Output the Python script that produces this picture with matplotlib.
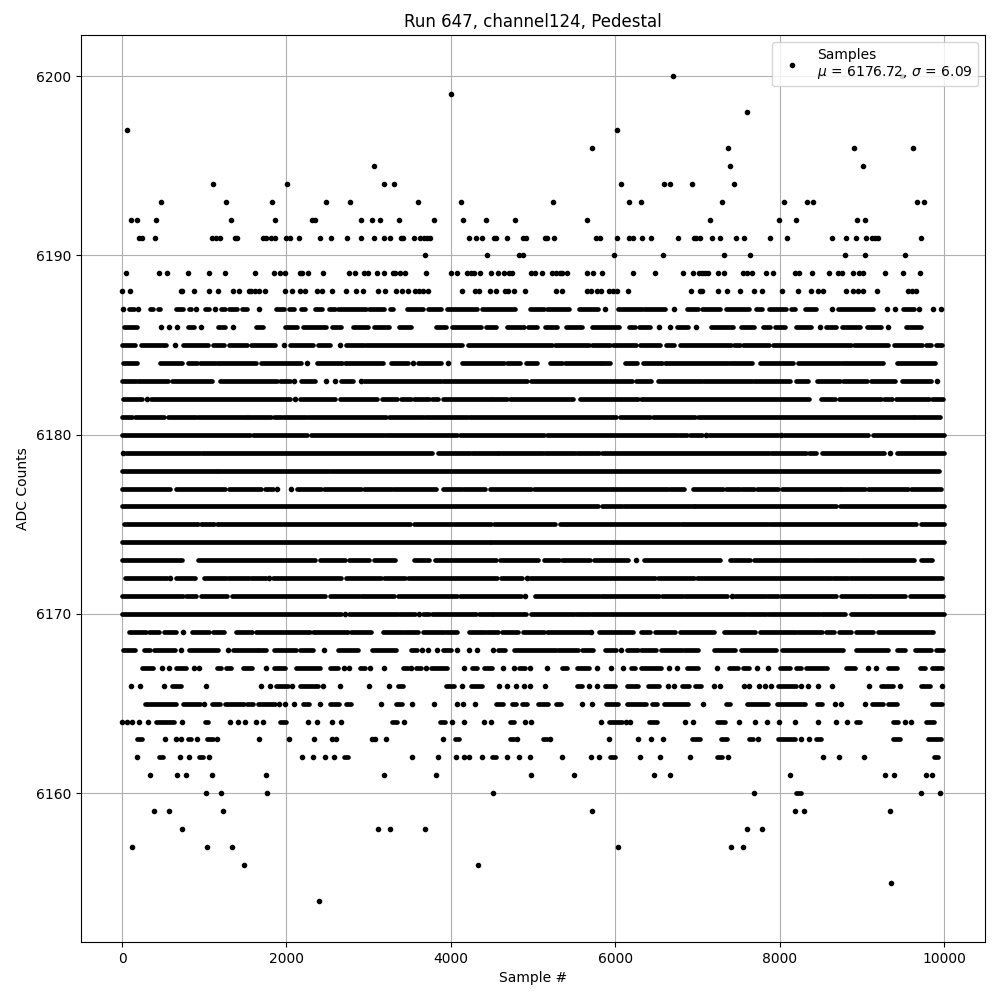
import matplotlib
matplotlib.use("Agg")
import matplotlib.pyplot as plt

# Values. A plain number is one sample; a (start, end) pair is a
# run of samples whose dots merge in the reference and cannot be told apart.
level_6200 = [6703, 9491]
level_6199 = [4008]
level_6198 = [7600]
level_6197 = [57, 6024]
level_6196 = [5721, 7370, 8909, 9624]
level_6195 = [3062, 7394, 9018]
level_6194 = [1111, 2008, 3184, 3305, 6073, 6594, 6667, 6933, 7442]
level_6193 = [469, 1269, 1826, 2480, 2771, 3596, 4129, 5249, 6170, 6315, 7297, 8060, 8339, 8412, 9672, 9757]
level_6192 = [105, 178, 408, 1329, 1862, 2315, 2343, 2905, 3038, 3135, 3365, 3790, 4153, 4432, 4783, 5661, 7151, 7988, 8206, 8945, 9042]
level_6191 = [210, 238, 396, 1099, 1147, 1196, 1378, 1402, 1717, 1753, 1814, 1866, 1996, 2044, 2153, 2408, 2541, 2735, 2905, 3062, 3184, 3256, 3390, 3414, 3547, 3620, 3668, 3705, 3741, 4218, 4303, 4376, 4521, 4545, 4687, 4880, 4917, 5152, 5176, 5261, 5770, 5818, 6024, 6170, 6218, 6327, 6436, 6764, 6957, 6982, 7030, 7176, 7273, 7467, 7563, 7879, 8085, 8642, 8812, 8933, 9054, 9127, 9163, 9200, 9721]
level_6190 = [3680, 4444, 4832, 4880, 5988, 6582, 7321, 7636, 8800, 9042, 9527]
level_6189 = [44, 452, 541, 808, 1063, 1256, 1620, 1850, 1923, 1984, 2165, 2190, 2262, 2444, 2759, 2832, 2941, 2990, 3099, 3184, 3293, 3317, 3377, 3438, 3693, 4008, 4080, 4202, 4250, 4287, 4359, 4492, 4577, 4650, 4711, 4747, 4981, 5030, 5115, 5236, 5285, 5333, 5358, 5418, 5661, 5733, 5842, 6218, 6485, 6824, 6945, 7018, 7054, 7091, 7135, 7248, 7321, 7551, 7600, 7660, 7830, 7915, 8194, 8242, 8400, 8606, 8715, 8764, 8897, 8970, 9018, 9285, 9503, 9709]
level_6188 = [0, 93, 711, 735, 881, 1063, 1172, 1353, 1426, 1547, 1572, 1620, 1669, 1741, 1984, 2068, 2165, 2226, 2372, 2432, 2553, 2723, 2844, 2929, 3111, 3196, 3329, 3402, 3474, 3559, 3608, 3656, 3717, 4141, 4299, 4347, 4481, 4554, 4663, 4699, 4771, 4905, 5285, 5358, 5661, 5709, 5782, 5830, 5927, 5976, 6024, 6158, 6921, 7030, 7054, 7248, 7358, 7515, 7685, 7782, 8024, 8230, 8388, 8473, 8533, 8812, 8897, 8958, 9018, 9188, 9563, 9612, 9660]
level_6187 = [12, (81, 141), 190, (335, 372), (432, 457), (650, 747), (820, 844), 905, (1014, 1063), 1131, (1208, 1256), (1305, 1402), (1462, 1523), 1669, (1875, 1972), (2032, 2093), (2178, 2226), (2347, 2432), (2517, 2590), (2626, 2969), (3002, 3184), (3256, 3293), (3462, 3656), (3717, 3878), (3959, 4323), (4383, 4787), (4969, 5136), (5176, 5438), (5560, 5794), 5879, (6036, 6327), (6347, 6602), 6715, (6873, 7006), (7054, 7281), (7345, 7632), (7709, 7782), (7867, 8073), (8137, 8194), (8307, 8448), 8642, (8711, 9135), 9309, 9406, (9507, 9640), 9697, 9866, 9963]
level_6186 = [(20, 182), 477, 566, 663, (796, 881), 966, (1172, 1257), 1353, (1624, 1717), (1984, 2129), (2202, 2485), (2553, 2666), (2808, 2990), (3070, 3244), (3373, 3519), (3818, 3939), (4020, 4363), (4424, 4545), (4686, 4888), (4941, 5050), (5148, 5297), (5406, 5592), (5713, 6044), (6166, 6246), (6295, 6428), 6533, 6667, (6751, 6885), 6982, (7163, 7438), (7527, 7693), (7794, 7883), (7943, 8064), (8206, 8388), 8497, (8570, 8691), (8759, 8973), (9066, 9236), 9325, (9539, 9721)]
level_6185 = [(0, 162), (230, 533), 638, (747, 1050), (1111, 1240), (1301, 1523), (1563, 1866), 1972, (2048, 2323), (2384, 2525), 2650, (2727, 2949), (2969, 4141), (4214, 5236), (5269, 5681), (5721, 5931), (5972, 6259), (6303, 6549), (6618, 6711), (6784, 7410), (7450, 7523), (7560, 7871), (7923, 8873), (8905, 9325), (9390, 9729), (9782, 9842), (9902, 9972)]
level_6184 = [(12, 182), (465, 727), (808, 909), (949, 1131), (1159, 1624), (1689, 2182), 2254, (2372, 2679), (2707, 3180), (3276, 3474), 3535, (3604, 3886), 3971, (4141, 4646), (4686, 4836), (4909, 5054), (5208, 5358), (5390, 5826), (5842, 5943), (6117, 6271), (6335, 6570), (6610, 7378), (7398, 7660), (7757, 8165), (8226, 8731), (8759, 9256), (9430, 9895)]
level_6183 = [(0, 174), (190, 558), (610, 1091), (1192, 1879), (1919, 2048), 2093, (2178, 2343), 2481, 2586, (2662, 2808), 2905, (2949, 3878), (3899, 4921), (4977, 6206), (6255, 6440), (6521, 7046), (7071, 7660), (7693, 8133), (8206, 8347), (8456, 8731), (8771, 9066), (9107, 9406), (9487, 9842), 9911]
level_6182 = [(12, 242), 299, (351, 2040), 2109, (2166, 2586), (2646, 3103), (3163, 3345), (3394, 3515), (3555, 3737), (3777, 3850), (3899, 4484), (4505, 4686), (4715, 5487), (5568, 6279), (6319, 8355), (8501, 8679), (8719, 9236), (9277, 9365), (9418, 9822), (9854, 9995)]
level_6181 = [(0, 121), (154, 505), (558, 897), (929, 1515), (1535, 1818), (1846, 1939), (1959, 2242), (2262, 3212), (3244, 3656), (3684, 4202), (4222, 6004), (6053, 6428), (6461, 6974), (7006, 9620), (9640, 9955)]
level_6180 = [(0, 1555), (1588, 2250), (2303, 3192), (3212, 4080), (4109, 5139), (5176, 6751), (6772, 6873), (6913, 7054), 7107, (7147, 7976), 8016, (8056, 9074), (9135, 9996)]
level_6179 = [8, (53, 949), (970, 3777), (3842, 4230), (4262, 4565), (4573, 5123), (5148, 5511), (5539, 5802), (5834, 7871), (7895, 8327), (8355, 8448), (8517, 9277), 9349, (9430, 10000)]
level_6178 = [(0, 1151), (1172, 2517), (2541, 9943)]
level_6177 = [(0, 586), (658, 1252), (1301, 1685), (1737, 1838), 1887, 2056, (2129, 2424), (2456, 2909), (2941, 3280), (3313, 3818), (3907, 4121), (4153, 4412), (4472, 4981), (5018, 6642), (6667, 6840), (6945, 7317), (7345, 7519), (7547, 7693), (7721, 7976), (8024, 8731), (8751, 9042), (9078, 9559), (9600, 9963)]
level_6176 = [(0, 5794), (5834, 6085), (6109, 6954), (6974, 8683), (8739, 9996)]
level_6175 = [(20, 929), (962, 1119), (1159, 1951), (1971, 3507), (3547, 4020), (4040, 4492), (4525, 5265), (5325, 5398), (5418, 6772), (6804, 7862), (7879, 9660), (9721, 9996)]
level_6174 = [(0, 4472), (4492, 9996)]
level_6173 = [(0, 727), (929, 2343), (2404, 2707), (2755, 3010), (3070, 3325), (3555, 3737), (3806, 4553), (4597, 5062), (5139, 5317), (5358, 5693), (5741, 6154), 6259, (6351, 7277), (7402, 7644), (7685, 8367), (8396, 8961), (8994, 9640), (9721, 9850)]
level_6172 = [(40, 545), 578, (658, 889), (998, 1260), (1293, 1543), (1568, 1749), 1790, (1838, 2666), (2719, 3151), (3192, 3442), (3474, 4565), (4614, 4868), 4921, (4961, 6489), (6521, 6962), (6994, 8630), (8650, 8832), (8852, 9971)]
level_6171 = [(0, 739), (776, 901), (962, 1273), (1341, 2464), (2525, 2881), (2909, 3313), (3353, 4072), (4113, 4848), 4901, (5022, 5802), (5822, 6529), (6570, 6824), (6852, 7358), 7418, (7458, 7822), (7842, 7984), (8012, 8683), (8751, 9095), (9115, 9531), (9588, 9984)]
level_6170 = [(0, 2666), 2715, (2755, 3341), (3373, 3567), 3608, (3656, 3737), (3777, 4303), (4343, 4497), (4517, 4909), (4973, 5499), (5519, 5681), (5709, 7588), (7620, 7834), (7854, 8481), (8509, 8792), (8873, 10000)]
level_6169 = [(81, 295), (323, 452), (505, 659), 747, (848, 1054), (1111, 1240), (1386, 1576), (1628, 2291), (2323, 2747), (2788, 3034), (3171, 3406), (3434, 3596), (3664, 3919), (3947, 4080), (4222, 4412), (4444, 4573), (4618, 4820), (4876, 5136), (5176, 5681), 5709, (5802, 6214), (6311, 6428), (6481, 6731), (6784, 7208), (7329, 7701), (7761, 8198), (8226, 8521), (8570, 8662), (8723, 8873), (8933, 9143), (9196, 9862)]
level_6168 = [(12, 154), (263, 343), (384, 646), 711, (820, 1172), 1293, (1353, 1636), (1656, 1757), (1850, 2120), (2162, 2323), 2456, (2626, 2869), (3038, 3329), (3511, 3584), 3644, 3717, 3826, (3899, 4000), 4080, 4226, 4323, 4517, (4577, 4662), (4771, 5277), (5310, 5552), (5600, 5733), (5879, 6012), 6073, (6145, 6279), (6315, 6497), (6558, 6812), (6836, 7006), (7200, 7458), (7527, 7951), (8024, 8771), (8933, 9317), (9430, 9527), (9648, 9842), (9902, 9995)]
level_6167 = [(238, 372), 481, 566, (650, 772), 869, 941, (1151, 1208), (1269, 1321), (1475, 1584), 1753, (1850, 1984), (2117, 2404), (2529, 2626), 2699, 2767, (2893, 2953), 3014, 3184, (3414, 3475), 3515, (3576, 3636), 3696, (3757, 3959), 4165, (4262, 4323), (4408, 4505), 4638, 4771, (4832, 4905), 4965, 5176, (5358, 5418), (5539, 5681), 5782, 5952, 6097, (6194, 6242), (6315, 6558), 6655, 6751, (6873, 7006), 7236, (7382, 7499), (7551, 7624), 7721, 7854, (8000, 8133), (8206, 8266), (8327, 8582), (8812, 8921), 9078, 9175, (9321, 9430), (9709, 9769), (9854, 9975)]
level_6166 = [105, 214, 505, (602, 711), 1026, 1693, 1802, (1875, 2020), 2068, (2165, 2384), 2444, 2650, 3002, 3244, (3353, 3414), (3947, 4044), 4141, (4250, 4383), 4589, 4686, 4796, 4892, 4965, 5152, (5539, 5600), 5685, 5782, (5879, 6000), (6145, 6279), (6400, 6533), 6642, 6715, (6812, 6897), (6970, 7042), 7200, 7273, 7563, 7624, 7745, 7818, 7891, (7976, 8206), 8267, 8351, 8473, 8642, 9091, (9236, 9382), 9466, (9721, 9830), 9975]
level_6165 = [(275, 650), (747, 950), 998, (1099, 1192), (1256, 1483), (1523, 1596), (1656, 1858), 1911, 1984, 2093, (2202, 2275), 2408, (2529, 2638), (2723, 2784), 3147, (3329, 3402), 3523, 3790, 4080, 4153, 4299, (4545, 4638), (4747, 4795), (4868, 4929), (5062, 5188), (5285, 5345), 5600, 5721, (5891, 6036), (6145, 6376), (6448, 6509), (6594, 6885), 7067, (7345, 7394), (7600, 7854), (7964, 8315), (8460, 8521), 8679, 8752, 9042, (9127, 9260), (9321, 9430), (9854, 9975)]
level_6164 = [0, 60, 117, 202, 311, (412, 626), 723, (1010, 1050), 1317, 1414, 1499, 1632, 1717, (1923, 1996), 2262, 2372, 2553, 2662, (3280, 3341), 3426, (3866, 3927), 4020, 4165, 4408, 4492, (4723, 4771), 4905, 4977, 5830, (5927, 6085), 6133, 6182, (6412, 6509), 6848, 6945, (7236, 7333), 7503, 7697, 7842, 7988, 8194, 8472, 8691, 8824, (8933, 8982), (9382, 9438), 9527, 9600, (9782, 9882)]
level_6163 = [(182, 242), 517, 650, 711, (796, 836), 913, (1030, 1111), 1159, 1669, 2032, 2335, 2553, 2602, 3038, 3074, 3208, 3899, (4056, 4101), (4723, 4771), 4808, (5127, 5171), 5212, 5927, 6279, 6436, 6582, (6933, 7030), (7285, 7358), (7624, 7673), 7733, (7976, 8186), 8267, 8363, (8448, 8509), (9382, 9467), (9805, 9963)]
level_6162 = [178, (444, 493), 699, 820, (941, 990), 1063, 2190, 2323, 2468, 2578, (2699, 2747), 3523, 3838, 4068, 4165, 4226, 4383, (4505, 4545), 4686, 4832, 4965, 5358, 5709, 5802, (5939, 6000), 6303, 6545, 6909, (7236, 7297), 7370, 8533, 8727, 9030, (9882, 9923)]
level_6161 = [335, 663, 772, 1091, 1753, 3184, 3814, 4977, 5500, 6473, 6667, 8133, 9285, 9394, 9782, 9854]
level_6160 = [1018, 1208, 1765, 4517, 7685, (8206, 8266), 9721, 9951]
level_6159 = [384, 566, 1232, 5721, 8182, 8303, 9345]
level_6158 = [735, 3111, 3256, 3680, 7600, 7782]
level_6157 = [117, 1038, 1341, 6036, 7406, 7551]
level_6156 = [1487, 4335]
level_6155 = [9357]
level_6154 = [2396]

rows = {
    6200: level_6200, 6199: level_6199, 6198: level_6198, 6197: level_6197, 6196: level_6196,
    6195: level_6195, 6194: level_6194, 6193: level_6193, 6192: level_6192, 6191: level_6191,
    6190: level_6190, 6189: level_6189, 6188: level_6188, 6187: level_6187, 6186: level_6186,
    6185: level_6185, 6184: level_6184, 6183: level_6183, 6182: level_6182, 6181: level_6181,
    6180: level_6180, 6179: level_6179, 6178: level_6178, 6177: level_6177, 6176: level_6176,
    6175: level_6175, 6174: level_6174, 6173: level_6173, 6172: level_6172, 6171: level_6171,
    6170: level_6170, 6169: level_6169, 6168: level_6168, 6167: level_6167, 6166: level_6166,
    6165: level_6165, 6164: level_6164, 6163: level_6163, 6162: level_6162, 6161: level_6161,
    6160: level_6160, 6159: level_6159, 6158: level_6158, 6157: level_6157, 6156: level_6156,
    6155: level_6155, 6154: level_6154,
}

title = "Run 647, channel124, Pedestal"
legend_label = "Samples\n$\\mu$ = 6176.72, $\\sigma$ = 6.09"

fig, ax = plt.subplots(figsize=(10, 10), dpi=100)

dot_x, dot_y = [], []
for level, items in rows.items():
    for item in items:
        if isinstance(item, tuple):
            ax.plot(item, (level, level), color="k", lw=3.4,
                    solid_capstyle="round", zorder=2)
        else:
            dot_x.append(item)
            dot_y.append(level)
ax.plot(dot_x, dot_y, "k.", label=legend_label, zorder=2)

ax.set_title(title)
ax.set_xlabel("Sample #")
ax.set_ylabel("ADC Counts")
ax.grid(True)
ax.legend(loc="upper right")
fig.subplots_adjust(left=0.081, right=0.985, top=0.965, bottom=0.058)
fig.savefig("out.png", dpi=100)
